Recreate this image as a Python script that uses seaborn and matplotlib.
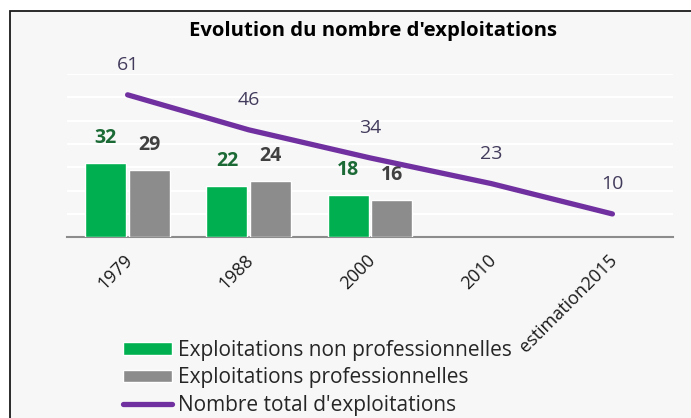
import numpy as np
import pandas as pd
import matplotlib
matplotlib.use("Agg")
import matplotlib.pyplot as plt
from matplotlib.patches import Rectangle
from matplotlib.transforms import ScaledTranslation
import seaborn as sns

years = ["1979", "1988", "2000", "2010", "estimation2015"]
non_pro = [32, 22, 18]          # Exploitations non professionnelles
pro = [29, 24, 16]              # Exploitations professionnelles
total = [61, 46, 34, 23, 10]    # Nombre total d'exploitations

lbl_non_pro = "Exploitations non professionnelles"
lbl_pro = "Exploitations professionnelles"
lbl_total = "Nombre total d'exploitations"

sns.set_theme(style="white")
plt.rcParams['font.family'] = ['Open Sans', 'DejaVu Sans']

W, H = 691, 418
fig = plt.figure(figsize=(W / 100, H / 100), dpi=100, facecolor="white")

# chart area box (Excel style), runs off the right / bottom edge
fig.patches.append(Rectangle((10 / W, -0.1), 1.2, 1 - 11 / H + 0.1,
                             transform=fig.transFigure, facecolor="#f7f7f7",
                             edgecolor="#1a1a1a", linewidth=1.3, zorder=-1))

ax = fig.add_axes([67 / W, 180.7 / H, 606 / W, 163.5 / H])
ax.set_facecolor("none")

df = pd.DataFrame({
    "annee": years[:3] * 2,
    "valeur": non_pro + pro,
    "serie": [lbl_non_pro] * 3 + [lbl_pro] * 3,
})

sns.barplot(data=df, x="annee", y="valeur", hue="serie", order=years,
            hue_order=[lbl_non_pro, lbl_pro], palette=["#00b050", "#8c8c8c"],
            saturation=1, width=0.72, gap=0.06, edgecolor="white", linewidth=1.0,
            errorbar=None, ax=ax, zorder=3)

sns.lineplot(x=np.arange(len(years)), y=total, color="#7030a0", linewidth=3.8,
             solid_capstyle="round", label=lbl_total, ax=ax, zorder=4)

# data labels
for cont, col in zip(ax.containers, ["#1c6b36", "#404040"]):
    for bar in cont:
        h = bar.get_height()
        if np.isnan(h):
            continue
        ax.annotate(f"{h:.0f}", (bar.get_x() + bar.get_width() / 2, h),
                    xytext=(0, 18), textcoords="offset points", ha="center",
                    va="center", fontsize=14, fontweight="bold", color=col,
                    annotation_clip=False)
for i, v in enumerate(total):
    ax.annotate(str(v), (i, v), xytext=(0, 21.5), textcoords="offset points",
                ha="center", va="center", fontsize=14, color="#433b5c",
                annotation_clip=False)

ax.set_xlim(-0.5, len(years) - 0.5)
ax.set_ylim(0, 70)
ax.set_yticks(range(10, 71, 10))
ax.yaxis.grid(True, color="white", linewidth=1.5)
ax.set_axisbelow(True)
ax.tick_params(axis="y", left=False, labelleft=False)
ax.tick_params(axis="x", bottom=False, pad=4)
for s in ["left", "right", "top"]:
    ax.spines[s].set_visible(False)
ax.spines["bottom"].set_color("#8c8c8c")
ax.spines["bottom"].set_linewidth(1.5)
ax.set_xlabel("")
ax.set_ylabel("")
shift = ScaledTranslation(-0.04, 0, fig.dpi_scale_trans)
for lbl in ax.get_xticklabels():
    lbl.set(rotation=45, ha="right", va="top", rotation_mode="anchor",
            fontsize=13, color="#1a1a1a")
    lbl.set_transform(lbl.get_transform() + shift)

fig.text(373 / W, 1 - 31 / H, "Evolution du nombre d'exploitations",
         ha="center", va="center", fontsize=14.6, fontweight="bold", color="black")

handles, labels = ax.get_legend_handles_labels()
ax.legend(handles, labels, loc="upper left", bbox_to_anchor=(123 / W, 1 - 340 / H),
          bbox_transform=fig.transFigure, frameon=False, fontsize=15,
          handlelength=2.35, handleheight=0.55, handletextpad=0.29,
          labelspacing=0.31, borderpad=0, borderaxespad=0)

fig.savefig("out.png", dpi=100, facecolor="white")
